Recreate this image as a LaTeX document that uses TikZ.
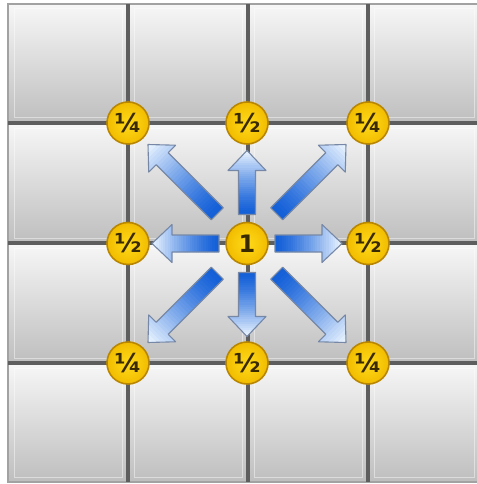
\documentclass[tikz,border=0pt]{standalone}
\usepackage{fontspec}
\newfontfamily\djfont{DejaVu Sans}
\definecolor{tiletop}{HTML}{F7F7F7}
\definecolor{tilebot}{HTML}{BEBEBE}
\definecolor{gridc}{HTML}{5E5E5E}
\definecolor{borderc}{HTML}{A2A2A2}
\definecolor{coin}{HTML}{F2BC00}
\definecolor{coinhi}{HTML}{FFDA1A}
\definecolor{coinedge}{HTML}{B88600}
\definecolor{coinText}{HTML}{3A2A00}
\definecolor{arrdark}{HTML}{1460D8}
\definecolor{arrlight}{HTML}{EAF4FF}
\definecolor{arredge}{HTML}{7688A6}
\tikzset{
  coinnode/.style={circle, minimum size=42pt, inner sep=0pt, draw=coinedge, line width=1.6pt,
    inner color=coinhi, outer color=coin, text=coinText,
    font=\djfont\bfseries\fontsize{26}{26}\selectfont},
  centrecoin/.style={coinnode, font=\djfont\bfseries\fontsize{24}{24}\selectfont},
  gridline/.style={draw=gridc, line width=4pt},
  tile/.style={top color=tiletop, bottom color=tilebot},
  bevel/.style={draw=white, line width=1pt, opacity=0.45},
  arrowedge/.style={draw=arredge, line width=1.1pt, line join=round}
}
% #1 centre, #2 angle, #3 start distance, #4 tip distance
\newcommand{\blockarrow}[4]{%
  \begin{scope}[shift={(#1)}, rotate=#2]
    \pgfmathsetmacro\hb{#4-20}
    \begin{scope}
      \clip (#3,-8.5) -- (\hb,-8.5) -- (\hb,-19) -- (#4,0) -- (\hb,19) -- (\hb,8.5) -- (#3,8.5) -- cycle;
      \foreach \i in {0,...,29}{
        \pgfmathsetmacro\xa{#3+(#4-#3)*\i/30}
        \pgfmathsetmacro\xb{#3+(#4-#3)*(\i+1.2)/30}
        \pgfmathtruncatemacro\p{min(100,100*(\i/29)^1.3)}
        \fill[color=arrlight!\p!arrdark] (\xa,-20) rectangle (\xb,20);
      }
    \end{scope}
    \path[arrowedge] (#3,-8.5) -- (\hb,-8.5) -- (\hb,-19) -- (#4,0) -- (\hb,19) -- (\hb,8.5) -- (#3,8.5) -- cycle;
  \end{scope}}
\begin{document}
\begin{tikzpicture}[x=1pt, y=-1pt]
  \useasboundingbox (0,0) rectangle (476,484);
  \fill[white] (0,0) rectangle (476,484);
  % tiles
  \foreach \xa/\xb in {8/128,128/248,248/368,368/480}{
    \foreach \ya/\yb in {4/123,123/243,243/363,363/482}{
      \shade[tile] (\xa,\ya) rectangle (\xb,\yb);
      \draw[bevel] (\xa+6,\ya+5) rectangle (\xb-6,\yb-5);
    }
  }
  \draw[draw=borderc, line width=2pt] (8,4) rectangle (480,482);
  % grid lines
  \foreach \x in {128,248,368}{ \draw[gridline] (\x,4) -- (\x,482); }
  \foreach \y in {123,243,363}{ \draw[gridline] (8,\y) -- (480,\y); }
  % centre
  \coordinate (ctr) at (247,243.5);
  % arrows
  \blockarrow{ctr}{90}{29}{93}
  \blockarrow{ctr}{270}{29}{93}
  \blockarrow{ctr}{0}{28}{95}
  \blockarrow{ctr}{180}{28}{95}
  \blockarrow{ctr}{45}{42}{140}
  \blockarrow{ctr}{135}{42}{140}
  \blockarrow{ctr}{225}{42}{140}
  \blockarrow{ctr}{315}{42}{140}
  % coins
  \node[centrecoin] (c) at (ctr) {1};
  \node[coinnode] (nw) at (128,123) {¼};
  \node[coinnode] (n)  at (247,123) {½};
  \node[coinnode] (ne) at (368,123) {¼};
  \node[coinnode] (w)  at (128,243.5) {½};
  \node[coinnode] (e)  at (368,243.5) {½};
  \node[coinnode] (sw) at (128,363) {¼};
  \node[coinnode] (s)  at (247,363) {½};
  \node[coinnode] (se) at (368,363) {¼};
\end{tikzpicture}
\end{document}
